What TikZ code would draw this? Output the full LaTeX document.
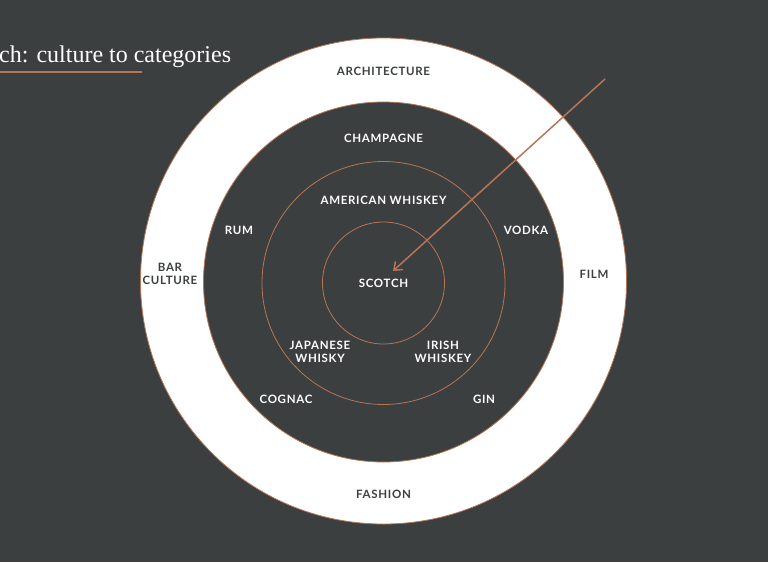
\documentclass[tikz,border=0pt]{standalone}
\usepackage{fontspec}
\setmainfont{Liberation Serif}
\newfontfamily\labfont{Lato}[LetterSpace=6]
\usetikzlibrary{arrows.meta}
\definecolor{bg}{HTML}{3C3F40}
\definecolor{copper}{HTML}{B87556}
\begin{document}
\begin{tikzpicture}[x=1pt,y=-1pt,
  lab/.style={font=\labfont\bfseries\fontsize{11.5}{12.5}\selectfont, text=white, align=center, inner sep=0pt},
  darklab/.style={lab, text=bg},
  ring/.style={draw=copper, line width=0.8pt}]
\fill[bg] (0,0) rectangle (768,562);
\useasboundingbox (0,0) rectangle (768,562);
% circles
\node[circle, ring, fill=white, minimum size=486pt, inner sep=0pt] (outer) at (383.5,281) {};
\node[circle, ring, fill=bg, minimum size=360pt, inner sep=0pt] (dark) at (383.5,282) {};
\node[circle, ring, minimum size=243pt, inner sep=0pt] (mid) at (383.5,283) {};
\node[circle, ring, minimum size=122pt, inner sep=0pt] (inner) at (383.5,283) {};
% title
\node[anchor=base west, text=white, font=\fontsize{24}{26}\selectfont, inner sep=0pt] (title) at (-1,62) {ch: culture to categories};
\coordinate (ul1) at (0,72);
\coordinate (ul2) at (142,72);
\draw[copper, line width=1.2pt] (ul1) -- (ul2);
% labels
\node[darklab] (arch) at (383.5,71) {ARCHITECTURE};
\node[darklab] (fashion) at (383.5,494) {FASHION};
\node[darklab] (bar) at (170,274) {BAR\\CULTURE};
\node[darklab] (film) at (594,274) {FILM};
\node[lab] (champ) at (383.5,138) {CHAMPAGNE};
\node[lab] (rum) at (239,230) {RUM};
\node[lab] (vodka) at (526,230) {VODKA};
\node[lab] (cognac) at (286,399) {COGNAC};
\node[lab] (gin) at (484,399) {GIN};
\node[lab] (amer) at (383.5,200) {AMERICAN WHISKEY};
\node[lab] (jap) at (320,352) {JAPANESE\\WHISKY};
\node[lab] (irish) at (443,352) {IRISH\\WHISKEY};
\node[lab] (scotch) at (383.5,283) {SCOTCH};
% arrow
\coordinate (astart) at (605,79);
\coordinate (aend) at (393,271);
\draw[copper, line width=1.5pt, -{Straight Barb[length=7pt,width=11pt]}] (astart) -- (aend);
\end{tikzpicture}
\end{document}
